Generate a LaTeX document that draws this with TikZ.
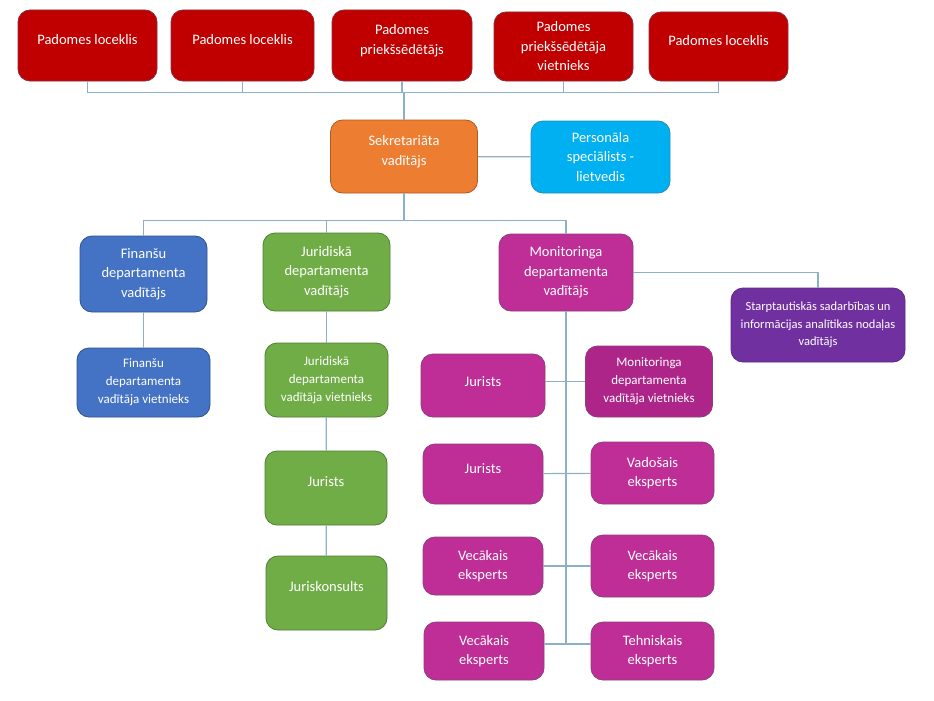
\documentclass[tikz,border=0pt]{standalone}
\usepackage{fontspec}
\setmainfont{Carlito}
\usepackage{tikz}
\definecolor{boardred}{HTML}{C00000}
\definecolor{boardedge}{HTML}{8E2B3B}
\definecolor{secorange}{HTML}{ED7D31}
\definecolor{secedge}{HTML}{AE5A21}
\definecolor{perscyan}{HTML}{00B0F0}
\definecolor{persedge}{HTML}{2A8BB5}
\definecolor{finblue}{HTML}{4472C4}
\definecolor{finedge}{HTML}{2F528F}
\definecolor{jurgreen}{HTML}{70AD47}
\definecolor{juredge}{HTML}{507E32}
\definecolor{monmag}{HTML}{BE2E96}
\definecolor{monmagdark}{HTML}{AE2589}
\definecolor{monedge}{HTML}{8B3E80}
\definecolor{intpurple}{HTML}{7030A0}
\definecolor{intedge}{HTML}{5B2C82}
\definecolor{linkblue}{HTML}{8DB0C8}
\tikzset{box/.style={draw, rounded corners=12pt, text=white, align=center,
                     inner sep=2pt, line width=0.8pt,
                     font=\fontsize{14.5}{19.5}\selectfont},
         smallbox/.style={box, font=\fontsize{13}{18}\selectfont},
         wh/.style 2 args={minimum width=#1pt, minimum height=#2pt},
         lift/.style={text depth=#1pt},
         board/.style={box, fill=boardred, draw=boardedge},
         link/.style={linkblue, line width=1.2pt}}
\begin{document}
\begin{tikzpicture}[x=1pt, y=-1pt]
    \useasboundingbox (0,0) rectangle (934,701);

    \node[board, wh={139}{71}, lift=13] (p1) at (87.5,45.5) {Padomes loceklis};
    \node[board, wh={143}{71}, lift=13] (p2) at (242.5,45.5) {Padomes loceklis};
    \node[board, wh={140}{71}, lift=12] (p3) at (402,45.5) {Padomes\\priekšsēdētājs};
    \node[board, wh={139}{69}] (p4) at (563.5,46.5) {Padomes\\priekšsēdētāja\\vietnieks};
    \node[board, wh={139}{69}, lift=13] (p5) at (718.5,46.5) {Padomes loceklis};

    \node[box, fill=secorange, draw=secedge, wh={147}{73}, lift=12] (sekr) at (404,156.5) {Sekretariāta\\vadītājs};
    \node[box, fill=perscyan, draw=persedge, wh={139}{72}] (pers) at (600.5,157) {Personāla\\speciālists -\\lietvedis};

    \draw[link] (p1.south) -- ++(0,11) -| (sekr.north);
    \draw[link] (p2.south) -- ++(0,11) -| (sekr.north);
    \draw[link] (p3.south) -- ++(0,11) -| (sekr.north);
    \draw[link] (p4.south) -- ++(0,11) -| (sekr.north);
    \draw[link] (p5.south) -- ++(0,11) -| (sekr.north);
    \draw[link] (sekr) -- (pers);

    \node[box, fill=finblue, draw=finedge, wh={127}{76}] (fin) at (143.5,274) {Finanšu\\departamenta\\vadītājs};
    \node[smallbox, fill=finblue, draw=finedge, wh={133}{69}] (finv) at (143.5,382.5) {Finanšu\\departamenta\\vadītāja vietnieks};

    \node[box, fill=jurgreen, draw=juredge, wh={127}{78}] (jur) at (326.5,272) {Juridiskā\\departamenta\\vadītājs};
    \node[smallbox, fill=jurgreen, draw=juredge, wh={123}{74}] (jurv) at (326.5,380) {Juridiskā\\departamenta\\vadītāja vietnieks};
    \node[box, fill=jurgreen, draw=juredge, wh={122}{74}, lift=13] (jurj) at (326,488) {Jurists};
    \node[box, fill=jurgreen, draw=juredge, wh={121}{74}, lift=13] (jurk) at (326.5,593) {Juriskonsults};

    \node[box, fill=monmag, draw=monedge, wh={134}{77}] (mon) at (566,272.5) {Monitoringa\\departamenta\\vadītājs};
    \node[box, fill=intpurple, draw=intedge, wh={174}{74}, font=\fontsize{12.5}{17.5}\selectfont] (intl) at (818,325) {Starptautiskās sadarbības un\\informācijas analītikas nodaļas\\vadītājs};

    \draw[link] (sekr.south) -- ++(0,27) -| (fin.north);
    \draw[link] (sekr.south) -- ++(0,27) -| (jur.north);
    \draw[link] (sekr.south) -- ++(0,27) -| (mon.north);
    \draw[link] (fin) -- (finv);
    \draw[link] (jur) -- (jurv);
    \draw[link] (jurv) -- (jurj);
    \draw[link] (jurj) -- (jurk);
    \draw[link] (mon.east) -| (intl.north);

    \node[box, fill=monmag, draw=monedge, wh={124}{63}, lift=7] (mj1) at (483,385.5) {Jurists};
    \node[box, fill=monmag, draw=monedge, wh={120}{60}, lift=11] (mj2) at (483,474) {Jurists};
    \node[box, fill=monmag, draw=monedge, wh={120}{58}] (mva) at (483,566) {Vecākais\\eksperts};
    \node[box, fill=monmag, draw=monedge, wh={120}{58}] (mvb) at (484,651) {Vecākais\\eksperts};

    \node[smallbox, fill=monmagdark, draw=monedge, wh={127}{71}] (monv) at (649,381.5) {Monitoringa\\departamenta\\vadītāja vietnieks};
    \node[box, fill=monmag, draw=monedge, wh={123}{62}] (vad) at (652.5,473) {Vadošais\\eksperts};
    \node[box, fill=monmag, draw=monedge, wh={123}{62}] (vvc) at (652.5,566) {Vecākais\\eksperts};
    \node[box, fill=monmag, draw=monedge, wh={123}{58}] (teh) at (652.5,651) {Tehniskais\\eksperts};

    \coordinate (spineend) at ([yshift=7pt]teh.west);
    \draw[link] (mon.south) -- (mon.south |- spineend);
    \draw[link] (mj1.east |- monv.west) -- (monv.west);
    \draw[link] (mj2) -- (vad);
    \draw[link] (mva) -- (vvc);
    \draw[link] ([yshift=7pt]mvb.east) -- (spineend);
\end{tikzpicture}
\end{document}
